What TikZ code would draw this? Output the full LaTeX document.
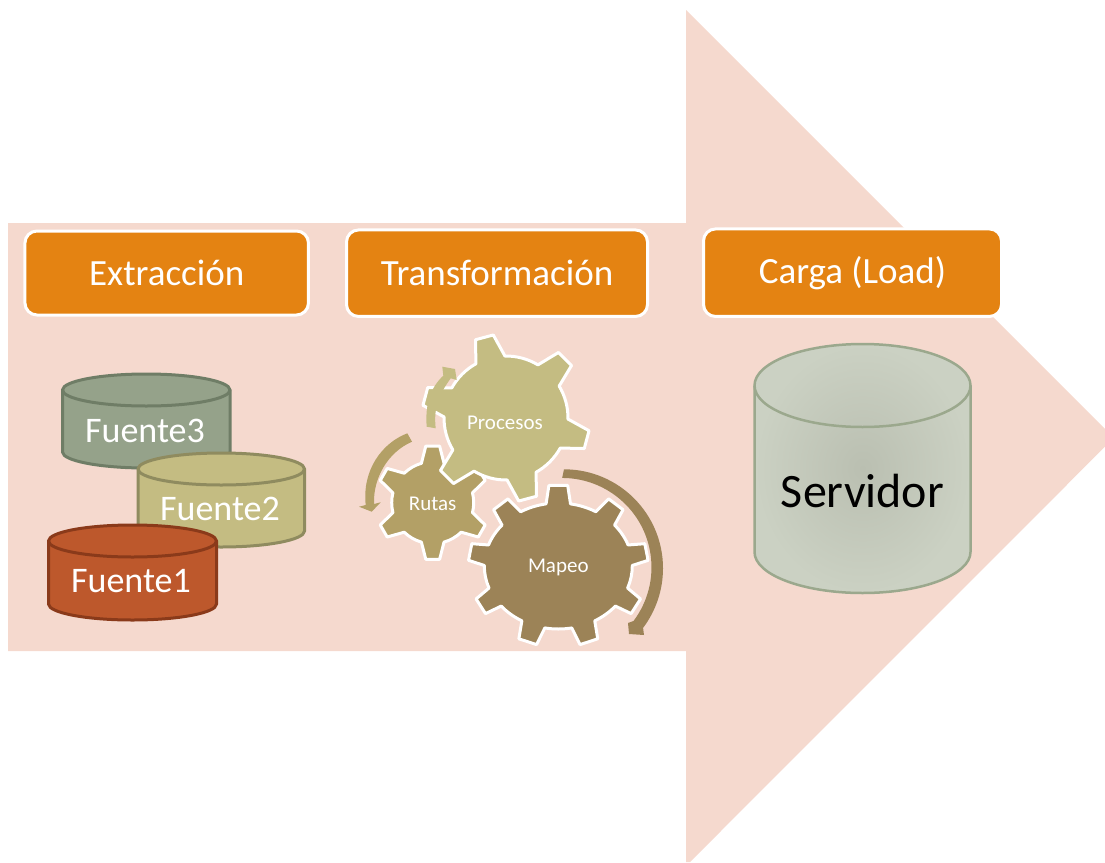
\documentclass[tikz,border=0pt]{standalone}
\usepackage{fontspec}
\setmainfont{Carlito}
\definecolor{pinkbg}{HTML}{F5D9CE}
\definecolor{orangebox}{HTML}{E48312}
\definecolor{procol}{HTML}{C4BC82}
\definecolor{rutcol}{HTML}{B3A066}
\definecolor{mapcol}{HTML}{9C8357}
\definecolor{f3fill}{HTML}{95A28A}
\definecolor{f3line}{HTML}{6F7D66}
\definecolor{f2line}{HTML}{8F8B5F}
\definecolor{f1fill}{HTML}{BD582C}
\definecolor{f1line}{HTML}{8A3A1A}
\definecolor{srvout}{HTML}{CBD1C3}
\definecolor{srvin}{HTML}{BABFB1}
\definecolor{srvline}{HTML}{9BA88D}
\tikzset{
  headbox/.style={draw=white,line width=3pt,fill=orangebox,rounded corners=12pt,text=white,
    font=\fontsize{37}{40}\selectfont,inner sep=0pt},
  gearline/.style={draw=white,line width=3pt,line join=round},
  cyltext/.style={text=white,font=\fontsize{36}{40}\selectfont,inner sep=0pt},
  geartext/.style={text=white,font=\fontsize{21}{24}\selectfont,inner sep=0pt},
  cylline/.style={line width=3pt}
}
\newcommand\gearshape[9]{%
  \pgfmathsetmacro\gstep{360/#6}%
  \pgfmathtruncatemacro\glast{#6-1}%
  \draw[gearline,#1] ({#7-#8}:#2pt and #3pt)
    \foreach \i [evaluate=\i as \a using #7+\i*\gstep] in {0,...,\glast} {
      -- ({\a-#9}:#4pt and #5pt) -- ({\a+#9}:#4pt and #5pt) -- ({\a+#8}:#2pt and #3pt)
      arc[start angle={\a+#8},end angle={\a+\gstep-#8},x radius=#2pt,y radius=#3pt]
    } -- cycle;%
}
\newcommand\cyl[7]{% x1 x2 ytopcentre ybotcentre ry fill line
  \draw[cylline,#7,fill=#6] (#1,#3) arc[start angle=180,end angle=360,x radius={(#2-#1)/2*1pt},y radius=#5pt]
     -- (#2,#4) arc[start angle=0,end angle=180,x radius={(#2-#1)/2*1pt},y radius=#5pt] -- cycle;
  \draw[cylline,#7] (#1,#3) arc[start angle=180,end angle=0,x radius={(#2-#1)/2*1pt},y radius=#5pt];
}
\begin{document}
\begin{tikzpicture}[x=1pt,y=1pt,yscale=-1]
\useasboundingbox (0,0) rectangle (1105,862);
% big arrow
\fill[pinkbg] (8,223) -- (686,223) -- (686,10) -- (1105,429) -- (1105,446.7) -- (690,862) -- (686,862) -- (686,651) -- (8,651) -- cycle;
% header boxes
\node[headbox,minimum width=283.5pt,minimum height=84pt] (ext) at (166.7,273) {\raisebox{1pt}{Extracción}};
\node[headbox,minimum width=301pt,minimum height=86.5pt] (tra) at (497,273.2) {\raisebox{1pt}{Transformación}};
\node[headbox,minimum width=298pt,minimum height=87.5pt] (car) at (852.5,272.7) {Carga (Load)};
% source cylinders
\cyl{62.5}{230}{390}{452}{16}{f3fill}{f3line}
\node[cyltext] (f3) at (145,431) {Fuente3};
\cyl{138}{304.5}{469}{531}{16}{procol}{f2line}
\node[cyltext] (f2) at (220,509) {Fuente2};
\cyl{48.5}{216.5}{541}{604}{16}{f1fill}{f1line}
\node[cyltext] (f1) at (131,581) {Fuente1};
% server
\shade[inner color=srvin,outer color=srvout,draw=srvline,line width=2.5pt]
  (754.5,385.5) arc[start angle=180,end angle=360,x radius=108pt,y radius=41.5pt]
  -- (970.5,552) arc[start angle=0,end angle=180,x radius=108pt,y radius=41pt] -- cycle;
\draw[draw=srvline,line width=2.5pt] (754.5,385.5) arc[start angle=180,end angle=0,x radius=108pt,y radius=41.5pt];
\node[inner sep=0pt,text=black,font=\fontsize{48}{52}\selectfont] (srv) at (862.5,491) {Servidor};
% gears
\gearshape{fill=rutcol,shift={(432.7,502.7)}}{41}{41}{57}{57}{6}{-90}{16}{7}
\gearshape{fill=procol,shift={(506,418)}}{62}{62}{84}{84}{6}{-105}{14}{6.3}
\gearshape{fill=mapcol,shift={(558.3,566)}}{74}{63}{90}{81}{9}{-90}{9.5}{6}
% curved arrows
\fill[mapcol] (564,469.3) arc[start angle=-90,end angle=37,radius=99pt]
  -- (644,635) -- (629,634) -- (628,623) -- (633.5,621)
  arc[start angle=37,end angle=-90,radius=89.3pt] -- cycle;
\fill[rutcol] (407.3,433.3) .. controls (382,443) and (362,470) .. (365.7,505)
  -- (359,506.7) -- (371.7,511.7) -- (380.7,502.3) -- (374,504)
  .. controls (373,478) and (388,452) .. (412,441.7) -- cycle;
\fill[procol] (426.7,426.7) .. controls (425,405) and (430,388) .. (443.3,375.7)
  -- (442.3,366.7) -- (455,369) -- (456.7,380) -- (450.7,378.3)
  .. controls (441,392) and (433,405) .. (435.7,428.3) -- cycle;
% gear labels
\node[geartext] (pro) at (505,422.5) {Procesos};
\node[geartext] (rut) at (432.7,503.5) {Rutas};
\node[geartext] (map) at (558.3,567) {Mapeo};
\end{tikzpicture}
\end{document}
